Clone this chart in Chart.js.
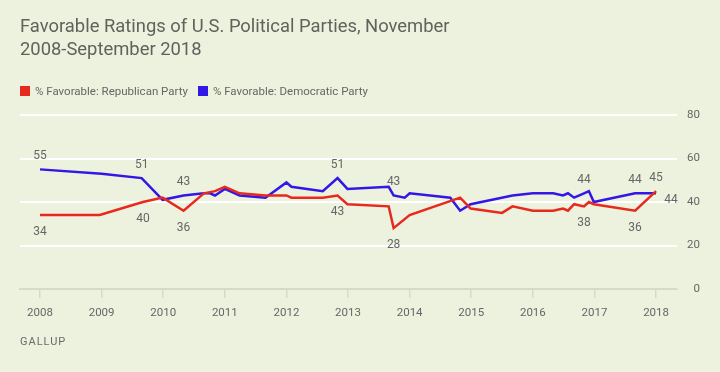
<!DOCTYPE html>
<html>
<head>
<meta charset="utf-8">
<script src="https://cdn.jsdelivr.net/npm/chart.js@4/dist/chart.umd.min.js"></script>
<style>
  html, body { margin: 0; padding: 0; background: #ecf2de; }
  #wrap { position: relative; width: 720px; height: 372px; overflow: hidden; }
  #chart { position: absolute; left: 0; top: 0; }
  .title { position: absolute; left: 20px; top: 14px; font: 18.4px Roboto, sans-serif; line-height: 23px; color: #5f635c; }
  .legend { position: absolute; left: 20px; top: 84px; font: 11.5px Roboto, sans-serif; color: #666; white-space: nowrap; }
  .legend span.item { display: inline-block; margin-right: 10px; }
  .legend i { display: inline-block; width: 10px; height: 10px; margin-right: 5px; vertical-align: -1px; }
  .source { position: absolute; left: 20px; top: 335px; font: 11px Roboto, sans-serif; letter-spacing: 1px; color: #6b6b6b; }
</style>
</head>
<body>
<div id="wrap">
  <canvas id="chart" width="720" height="372"></canvas>
  <div class="title">Favorable Ratings of U.S. Political Parties, November<br>2008-September 2018</div>
  <div class="legend" id="legend"></div>
  <div class="source">GALLUP</div>
</div>
<script>
const yearTicks = [2008, 2009, 2010, 2011, 2012, 2013, 2014, 2015, 2016, 2017, 2018];
const valueTicks = [0, 20, 40, 60, 80];

const repDates = [2008.00, 2008.97, 2009.67, 2009.99, 2010.33, 2010.66, 2010.84, 2011.00, 2011.24, 2011.66,
  2012.00, 2012.08, 2012.59, 2012.83, 2012.99, 2013.66, 2013.74, 2014.00, 2014.82, 2014.99,
  2015.50, 2015.67, 2016.00, 2016.33, 2016.49, 2016.57, 2016.67, 2016.83, 2016.91, 2016.99,
  2017.66, 2018.00];
const repValues = [34, 34, 40, 42, 36, 44, 45, 47, 44, 43,
  43, 42, 42, 43, 39, 38, 28, 34, 42, 37,
  35, 38, 36, 36, 37, 36, 39, 38, 40, 39,
  36, 45];

const demDates = [2008.00, 2009.00, 2009.65, 2009.99, 2010.33, 2010.66, 2010.76, 2010.84, 2011.00, 2011.24,
  2011.66, 2012.00, 2012.08, 2012.59, 2012.83, 2012.99, 2013.66, 2013.74, 2013.92, 2014.00,
  2014.66, 2014.82, 2014.99, 2015.67, 2016.00, 2016.33, 2016.49, 2016.57, 2016.67, 2016.83,
  2016.91, 2016.99, 2017.66, 2018.00];
const demValues = [55, 53, 51, 41, 43, 44, 44, 43, 46, 43,
  42, 49, 47, 45, 51, 46, 47, 43, 42, 44,
  42, 36, 39, 43, 44, 44, 43, 44, 42, 44,
  45, 40, 44, 44];

// which points get a value label, and where it sits
const repLabelIdx = [0, 2, 4, 13, 16, 27, 30, 31];
const repLabelPos = ['below', 'below', 'below', 'below', 'below', 'below', 'below', 'above'];
const demLabelIdx = [0, 2, 4, 14, 17, 29, 32, 33];
const demLabelPos = ['above', 'above', 'above', 'above', 'above', 'above', 'above', 'right'];

const seriesNames = ['% Favorable: Republican Party', '% Favorable: Democratic Party'];
const RED = '#e8291d';
const BLUE = '#3317e6';
const TEXT = '#666666';
const AXIS = '#d6dacb';

Chart.defaults.font.family = 'Roboto, sans-serif';

document.getElementById('legend').innerHTML = seriesNames.map((n, i) =>
  `<span class="item"><i style="background:${i === 0 ? RED : BLUE}"></i>${n}</span>`).join('');

const pointLabels = {
  id: 'pointLabels',
  afterDatasetsDraw(chart) {
    const { ctx, scales: { x, y } } = chart;
    ctx.save();
    ctx.font = '12px Roboto, sans-serif';
    ctx.fillStyle = TEXT;
    ctx.textAlign = 'center';
    ctx.textBaseline = 'middle';
    const draw = (dates, vals, idx, pos) => {
      idx.forEach((k, i) => {
        const px = x.getPixelForValue(dates[k]);
        const py = y.getPixelForValue(vals[k]);
        let dx = 0, dy = 0;
        if (pos[i] === 'above') dy = -13.5;
        else if (pos[i] === 'below') dy = 17;
        else { dx = 15; dy = 7; }
        ctx.fillText(String(vals[k]), px + dx, py + dy);
      });
    };
    draw(repDates, repValues, repLabelIdx, repLabelPos);
    draw(demDates, demValues, demLabelIdx, demLabelPos);
    ctx.restore();
  }
};

new Chart(document.getElementById('chart'), {
  type: 'line',
  data: {
    datasets: [
      {
        label: seriesNames[0],
        data: repDates.map((d, i) => ({ x: d, y: repValues[i] })),
        borderColor: RED,
        backgroundColor: RED,
        borderWidth: 2.5,
        pointRadius: 0,
        tension: 0
      },
      {
        label: seriesNames[1],
        data: demDates.map((d, i) => ({ x: d, y: demValues[i] })),
        borderColor: BLUE,
        backgroundColor: BLUE,
        borderWidth: 2.5,
        pointRadius: 0,
        tension: 0
      }
    ]
  },
  options: {
    responsive: false,
    animation: false,
    layout: { padding: { left: 20, right: 20, top: 115, bottom: 53 } },
    plugins: {
      legend: { display: false },
      tooltip: { enabled: false }
    },
    scales: {
      x: {
        type: 'linear',
        min: 2007.675,
        max: 2018.34,
        afterBuildTicks: s => { s.ticks = yearTicks.map(v => ({ value: v })); },
        afterFit: s => { s.height = 30; },
        grid: { drawOnChartArea: false, color: AXIS, lineWidth: 1.5, tickLength: 9 },
        border: { display: true, color: AXIS, width: 2 },
        ticks: { color: TEXT, font: { size: 11.5 }, padding: 8, maxRotation: 0, callback: v => String(v) }
      },
      y: {
        position: 'right',
        min: 0,
        max: 80,
        afterBuildTicks: s => { s.ticks = valueTicks.map(v => ({ value: v })); },
        afterFit: s => { s.width = 23; },
        grid: { color: c => c.tick && c.tick.value === 0 ? 'rgba(0,0,0,0)' : '#ffffff', lineWidth: 2, drawTicks: false },
        border: { display: false },
        ticks: { color: TEXT, font: { size: 11.5 }, padding: 0, crossAlign: 'far' }
      }
    }
  },
  plugins: [pointLabels]
});
</script>
</body>
</html>
